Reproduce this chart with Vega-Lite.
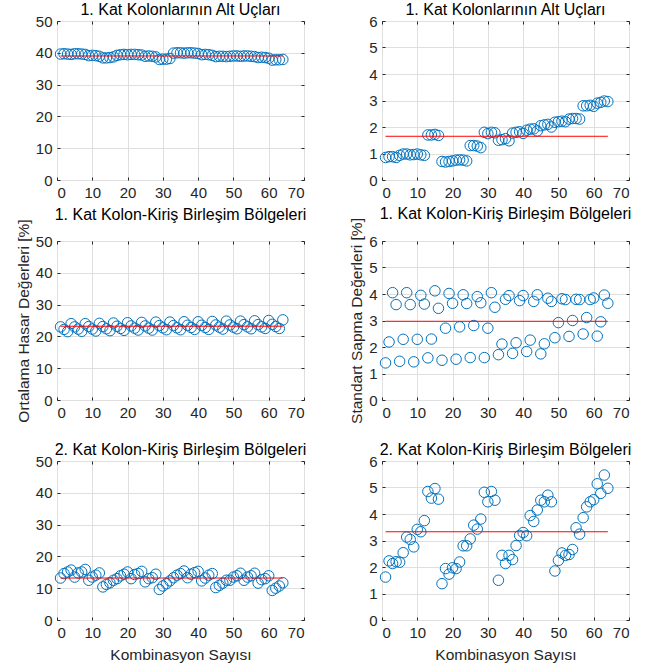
{
 "$schema": "https://vega.github.io/schema/vega-lite/v6.json",
 "background": "white",
 "padding": {"left": 15, "top": 1, "right": 5, "bottom": 5},
 "columns": 2,
 "spacing": {"row": 61, "column": 78},
 "bounds": "flush",
 "datasets": {
  "pts": [
   {"i":1,"a":39.6,"b":0.85,"c":23.0,"d":1.40,"e":13.2,"f":1.62},
   {"i":2,"a":39.7,"b":0.88,"c":22.2,"d":2.19,"e":14.6,"f":2.23},
   {"i":3,"a":39.6,"b":0.88,"c":21.5,"d":4.05,"e":15.1,"f":2.13},
   {"i":4,"a":39.5,"b":0.85,"c":24.0,"d":3.60,"e":15.7,"f":2.20},
   {"i":5,"a":39.7,"b":0.93,"c":23.0,"d":1.46,"e":13.5,"f":2.18},
   {"i":6,"a":39.7,"b":0.98,"c":22.3,"d":2.29,"e":14.8,"f":2.54},
   {"i":7,"a":39.6,"b":0.98,"c":21.6,"d":4.05,"e":15.1,"f":3.13},
   {"i":8,"a":39.5,"b":0.95,"c":24.0,"d":3.60,"e":15.9,"f":3.04},
   {"i":9,"a":39.1,"b":0.96,"c":23.1,"d":1.44,"e":12.5,"f":2.76},
   {"i":10,"a":39.2,"b":0.98,"c":22.3,"d":2.29,"e":13.5,"f":3.42},
   {"i":11,"a":39.1,"b":0.95,"c":21.7,"d":3.95,"e":14.1,"f":3.33},
   {"i":12,"a":38.9,"b":0.93,"c":24.1,"d":3.62,"e":14.8,"f":3.75},
   {"i":13,"a":38.4,"b":1.70,"c":23.1,"d":1.59,"e":10.4,"f":4.85},
   {"i":14,"a":38.4,"b":1.70,"c":22.4,"d":2.30,"e":11.2,"f":4.60},
   {"i":15,"a":38.5,"b":1.72,"c":21.8,"d":4.12,"e":11.7,"f":4.96},
   {"i":16,"a":38.7,"b":1.68,"c":24.2,"d":3.46,"e":12.5,"f":4.56},
   {"i":17,"a":39.2,"b":0.70,"c":23.2,"d":1.50,"e":13.0,"f":1.37},
   {"i":18,"a":39.4,"b":0.68,"c":22.5,"d":2.71,"e":13.9,"f":1.94},
   {"i":19,"a":39.5,"b":0.70,"c":21.9,"d":4.02,"e":14.4,"f":1.73},
   {"i":20,"a":39.4,"b":0.72,"c":24.3,"d":3.65,"e":15.1,"f":1.97},
   {"i":21,"a":39.5,"b":0.75,"c":23.3,"d":1.54,"e":13.0,"f":1.94},
   {"i":22,"a":39.5,"b":0.76,"c":22.6,"d":2.76,"e":14.3,"f":2.19},
   {"i":23,"a":39.4,"b":0.75,"c":22.0,"d":3.97,"e":14.6,"f":2.80},
   {"i":24,"a":39.3,"b":0.72,"c":24.4,"d":3.64,"e":15.3,"f":2.80},
   {"i":25,"a":38.9,"b":1.30,"c":23.3,"d":1.60,"e":12.0,"f":3.06},
   {"i":26,"a":39.0,"b":1.30,"c":22.6,"d":2.81,"e":13.0,"f":3.58},
   {"i":27,"a":38.9,"b":1.28,"c":22.0,"d":3.90,"e":13.3,"f":3.43},
   {"i":28,"a":38.7,"b":1.22,"c":24.5,"d":3.67,"e":14.4,"f":3.81},
   {"i":29,"a":37.9,"b":1.80,"c":23.4,"d":1.60,"e":9.6,"f":4.82},
   {"i":30,"a":38.0,"b":1.75,"c":22.7,"d":2.71,"e":10.7,"f":4.46},
   {"i":31,"a":38.0,"b":1.80,"c":22.1,"d":4.05,"e":11.4,"f":4.85},
   {"i":32,"a":38.2,"b":1.78,"c":24.5,"d":3.50,"e":12.3,"f":4.52},
   {"i":33,"a":39.9,"b":1.50,"c":23.4,"d":1.71,"e":13.3,"f":1.50},
   {"i":34,"a":40.0,"b":1.52,"c":22.7,"d":2.11,"e":14.1,"f":2.44},
   {"i":35,"a":40.0,"b":1.56,"c":22.1,"d":3.80,"e":14.6,"f":2.13},
   {"i":36,"a":39.9,"b":1.48,"c":24.6,"d":3.94,"e":15.4,"f":2.44},
   {"i":37,"a":40.0,"b":1.77,"c":23.5,"d":1.76,"e":13.3,"f":2.28},
   {"i":38,"a":40.0,"b":1.80,"c":22.8,"d":2.16,"e":14.4,"f":2.81},
   {"i":39,"a":39.9,"b":1.82,"c":22.2,"d":3.75,"e":14.9,"f":3.19},
   {"i":40,"a":39.8,"b":1.76,"c":24.6,"d":3.94,"e":15.3,"f":3.30},
   {"i":41,"a":39.4,"b":1.88,"c":23.5,"d":1.83,"e":12.3,"f":3.18},
   {"i":42,"a":39.5,"b":1.92,"c":22.8,"d":2.26,"e":13.2,"f":3.94},
   {"i":43,"a":39.4,"b":1.93,"c":22.2,"d":3.72,"e":14.1,"f":3.72},
   {"i":44,"a":39.2,"b":1.85,"c":24.7,"d":3.97,"e":14.6,"f":4.15},
   {"i":45,"a":38.8,"b":2.05,"c":23.6,"d":1.74,"e":10.2,"f":4.52},
   {"i":46,"a":38.9,"b":2.08,"c":22.9,"d":2.12,"e":10.9,"f":4.46},
   {"i":47,"a":38.9,"b":2.10,"c":22.3,"d":3.84,"e":11.6,"f":4.71},
   {"i":48,"a":38.8,"b":2.00,"c":24.8,"d":3.72,"e":12.5,"f":4.46},
   {"i":49,"a":38.9,"b":2.18,"c":23.6,"d":2.35,"e":12.5,"f":1.85},
   {"i":50,"a":39.0,"b":2.20,"c":22.9,"d":2.92,"e":13.5,"f":2.25},
   {"i":51,"a":39.0,"b":2.22,"c":22.4,"d":3.82,"e":13.9,"f":2.53},
   {"i":52,"a":38.9,"b":2.20,"c":24.8,"d":3.79,"e":14.7,"f":2.44},
   {"i":53,"a":39.0,"b":2.30,"c":23.7,"d":2.40,"e":12.5,"f":2.47},
   {"i":54,"a":39.0,"b":2.32,"c":23.0,"d":3.00,"e":13.5,"f":2.66},
   {"i":55,"a":38.9,"b":2.32,"c":22.4,"d":3.80,"e":13.9,"f":3.48},
   {"i":56,"a":38.8,"b":2.30,"c":24.9,"d":3.79,"e":14.7,"f":3.24},
   {"i":57,"a":38.5,"b":2.80,"c":23.7,"d":2.49,"e":11.6,"f":3.86},
   {"i":58,"a":38.6,"b":2.80,"c":23.0,"d":3.11,"e":12.7,"f":4.27},
   {"i":59,"a":38.5,"b":2.82,"c":22.5,"d":3.79,"e":13.0,"f":4.46},
   {"i":60,"a":38.3,"b":2.78,"c":25.0,"d":3.85,"e":13.9,"f":4.54},
   {"i":61,"a":37.7,"b":2.90,"c":23.8,"d":2.41,"e":9.3,"f":5.14},
   {"i":62,"a":37.8,"b":2.93,"c":23.1,"d":2.95,"e":10.0,"f":4.78},
   {"i":63,"a":37.8,"b":2.98,"c":22.5,"d":3.96,"e":10.7,"f":5.47},
   {"i":64,"a":37.9,"b":2.96,"c":25.2,"d":3.65,"e":11.7,"f":4.97}
  ],
  "means": [
   {"x1":1,"x2":64,"a":39.0,"b":1.65,"c":23.2,"d":2.97,"e":13.2,"f":3.33}
  ]
 },
 "config": {
  "view": {"stroke": "#262626", "strokeWidth": 1},
  "font": "Liberation Sans",
  "axis": {
   "grid": true, "gridColor": "#dfdfdf", "domain": false,
   "tickColor": "#262626", "tickSize": -3,
   "labelColor": "#262626", "labelFontSize": 15, "labelFont": "Liberation Sans",
   "titleFont": "Liberation Sans", "titleFontSize": 15.5, "titleFontWeight": "normal", "titleColor": "#262626",
   "labelPadding": 8, "titlePadding": 4
  },
  "axisX": {"titlePadding": 7},
  "title": {"fontSize": 16, "fontWeight": "normal", "color": "#000000", "offset": -4, "font": "Liberation Sans"}
 },
 "concat": [
  {
   "width": 247, "height": 159,
   "title": "1. Kat Kolonlarının Alt Uçları",
   "resolve": {"axis": {"x": "independent", "y": "independent"}},
   "layer": [
    {"data": {"name": "pts"},
     "mark": {"type": "point", "shape": "circle", "filled": false, "size": 110, "strokeWidth": 1, "color": "#0072BD", "opacity": 1},
     "encoding": {
      "x": {"field": "i", "type": "quantitative", "scale": {"domain": [0, 70]}, "axis": {"values": [0,10,20,30,40,50,60,70], "title": null}},
      "y": {"field": "a", "type": "quantitative", "scale": {"domain": [0, 50]}, "axis": {"values": [0,10,20,30,40,50], "title": null}}
     }},
    {"data": {"name": "means"},
     "mark": {"type": "rule", "color": "#ff0000", "strokeWidth": 1},
     "encoding": {
      "x": {"field": "x1", "type": "quantitative", "scale": {"domain": [0, 70]}, "axis": {"orient": "top", "values": [0,10,20,30,40,50,60,70], "labels": false, "grid": false, "title": null, "labelPadding": 0}},
      "x2": {"field": "x2"},
      "y": {"field": "a", "type": "quantitative", "scale": {"domain": [0, 50]}, "axis": {"orient": "right", "values": [0,10,20,30,40,50], "labels": false, "grid": false, "title": null, "labelPadding": 0}}
     }}
   ]
  },
  {
   "width": 247, "height": 159,
   "title": "1. Kat Kolonlarının Alt Uçları",
   "resolve": {"axis": {"x": "independent", "y": "independent"}},
   "layer": [
    {"data": {"name": "pts"},
     "mark": {"type": "point", "shape": "circle", "filled": false, "size": 110, "strokeWidth": 1, "color": "#0072BD", "opacity": 1},
     "encoding": {
      "x": {"field": "i", "type": "quantitative", "scale": {"domain": [0, 70]}, "axis": {"values": [0,10,20,30,40,50,60,70], "title": null}},
      "y": {"field": "b", "type": "quantitative", "scale": {"domain": [0, 6]}, "axis": {"values": [0,1,2,3,4,5,6], "title": null}}
     }},
    {"data": {"name": "means"},
     "mark": {"type": "rule", "color": "#ff0000", "strokeWidth": 1},
     "encoding": {
      "x": {"field": "x1", "type": "quantitative", "scale": {"domain": [0, 70]}, "axis": {"orient": "top", "values": [0,10,20,30,40,50,60,70], "labels": false, "grid": false, "title": null, "labelPadding": 0}},
      "x2": {"field": "x2"},
      "y": {"field": "b", "type": "quantitative", "scale": {"domain": [0, 6]}, "axis": {"orient": "right", "values": [0,1,2,3,4,5,6], "labels": false, "grid": false, "title": null, "labelPadding": 0}}
     }}
   ]
  },
  {
   "width": 247, "height": 159,
   "title": "1. Kat Kolon-Kiriş Birleşim Bölgeleri",
   "resolve": {"axis": {"x": "independent", "y": "independent"}},
   "layer": [
    {"data": {"name": "pts"},
     "mark": {"type": "point", "shape": "circle", "filled": false, "size": 110, "strokeWidth": 1, "color": "#0072BD", "opacity": 1},
     "encoding": {
      "x": {"field": "i", "type": "quantitative", "scale": {"domain": [0, 70]}, "axis": {"values": [0,10,20,30,40,50,60,70], "title": null}},
      "y": {"field": "c", "type": "quantitative", "scale": {"domain": [0, 50]}, "axis": {"values": [0,10,20,30,40,50], "title": "Ortalama Hasar Değerleri [%]"}}
     }},
    {"data": {"name": "means"},
     "mark": {"type": "rule", "color": "#ff0000", "strokeWidth": 1},
     "encoding": {
      "x": {"field": "x1", "type": "quantitative", "scale": {"domain": [0, 70]}, "axis": {"orient": "top", "values": [0,10,20,30,40,50,60,70], "labels": false, "grid": false, "title": null, "labelPadding": 0}},
      "x2": {"field": "x2"},
      "y": {"field": "c", "type": "quantitative", "scale": {"domain": [0, 50]}, "axis": {"orient": "right", "values": [0,10,20,30,40,50], "labels": false, "grid": false, "title": null, "labelPadding": 0}}
     }}
   ]
  },
  {
   "width": 247, "height": 159,
   "title": "1. Kat Kolon-Kiriş Birleşim Bölgeleri",
   "resolve": {"axis": {"x": "independent", "y": "independent"}},
   "layer": [
    {"data": {"name": "pts"},
     "mark": {"type": "point", "shape": "circle", "filled": false, "size": 110, "strokeWidth": 1, "color": "#0072BD", "opacity": 1},
     "encoding": {
      "x": {"field": "i", "type": "quantitative", "scale": {"domain": [0, 70]}, "axis": {"values": [0,10,20,30,40,50,60,70], "title": null}},
      "y": {"field": "d", "type": "quantitative", "scale": {"domain": [0, 6]}, "axis": {"values": [0,1,2,3,4,5,6], "title": "Standart Sapma Değerleri [%]"}}
     }},
    {"data": {"name": "means"},
     "mark": {"type": "rule", "color": "#ff0000", "strokeWidth": 1},
     "encoding": {
      "x": {"field": "x1", "type": "quantitative", "scale": {"domain": [0, 70]}, "axis": {"orient": "top", "values": [0,10,20,30,40,50,60,70], "labels": false, "grid": false, "title": null, "labelPadding": 0}},
      "x2": {"field": "x2"},
      "y": {"field": "d", "type": "quantitative", "scale": {"domain": [0, 6]}, "axis": {"orient": "right", "values": [0,1,2,3,4,5,6], "labels": false, "grid": false, "title": null, "labelPadding": 0}}
     }}
   ]
  },
  {
   "width": 247, "height": 159,
   "title": "2. Kat Kolon-Kiriş Birleşim Bölgeleri",
   "resolve": {"axis": {"x": "independent", "y": "independent"}},
   "layer": [
    {"data": {"name": "pts"},
     "mark": {"type": "point", "shape": "circle", "filled": false, "size": 110, "strokeWidth": 1, "color": "#0072BD", "opacity": 1},
     "encoding": {
      "x": {"field": "i", "type": "quantitative", "scale": {"domain": [0, 70]}, "axis": {"values": [0,10,20,30,40,50,60,70], "title": "Kombinasyon Sayısı"}},
      "y": {"field": "e", "type": "quantitative", "scale": {"domain": [0, 50]}, "axis": {"values": [0,10,20,30,40,50], "title": null}}
     }},
    {"data": {"name": "means"},
     "mark": {"type": "rule", "color": "#ff0000", "strokeWidth": 1},
     "encoding": {
      "x": {"field": "x1", "type": "quantitative", "scale": {"domain": [0, 70]}, "axis": {"orient": "top", "values": [0,10,20,30,40,50,60,70], "labels": false, "grid": false, "title": null, "labelPadding": 0}},
      "x2": {"field": "x2"},
      "y": {"field": "e", "type": "quantitative", "scale": {"domain": [0, 50]}, "axis": {"orient": "right", "values": [0,10,20,30,40,50], "labels": false, "grid": false, "title": null, "labelPadding": 0}}
     }}
   ]
  },
  {
   "width": 247, "height": 159,
   "title": "2. Kat Kolon-Kiriş Birleşim Bölgeleri",
   "resolve": {"axis": {"x": "independent", "y": "independent"}},
   "layer": [
    {"data": {"name": "pts"},
     "mark": {"type": "point", "shape": "circle", "filled": false, "size": 110, "strokeWidth": 1, "color": "#0072BD", "opacity": 1},
     "encoding": {
      "x": {"field": "i", "type": "quantitative", "scale": {"domain": [0, 70]}, "axis": {"values": [0,10,20,30,40,50,60,70], "title": "Kombinasyon Sayısı"}},
      "y": {"field": "f", "type": "quantitative", "scale": {"domain": [0, 6]}, "axis": {"values": [0,1,2,3,4,5,6], "title": null}}
     }},
    {"data": {"name": "means"},
     "mark": {"type": "rule", "color": "#ff0000", "strokeWidth": 1},
     "encoding": {
      "x": {"field": "x1", "type": "quantitative", "scale": {"domain": [0, 70]}, "axis": {"orient": "top", "values": [0,10,20,30,40,50,60,70], "labels": false, "grid": false, "title": null, "labelPadding": 0}},
      "x2": {"field": "x2"},
      "y": {"field": "f", "type": "quantitative", "scale": {"domain": [0, 6]}, "axis": {"orient": "right", "values": [0,1,2,3,4,5,6], "labels": false, "grid": false, "title": null, "labelPadding": 0}}
     }}
   ]
  }
 ]
}
